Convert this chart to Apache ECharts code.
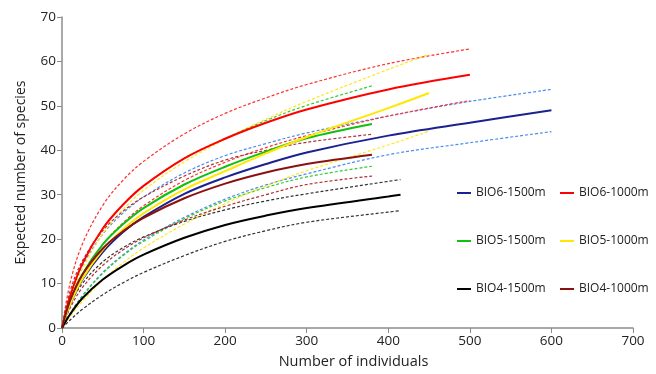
<!DOCTYPE html>
<html>
<head>
<meta charset="utf-8">
<script src="https://cdn.jsdelivr.net/npm/echarts@6/dist/echarts.min.js"></script>
<style>
  html, body { margin: 0; padding: 0; background: #fff; }
  #chart { width: 656px; height: 374px; }
</style>
</head>
<body>
<div id="chart"></div>
<script>
// sample sizes (individuals) for each rarefaction curve
const nBIO6_1500 = [0, 10, 25, 50, 75, 100, 150, 200, 250, 300, 400, 500, 600];
const nBIO6_1000 = [0, 10, 25, 50, 75, 100, 150, 200, 250, 300, 400, 500];
const nBIO5_1500 = [0, 10, 25, 50, 75, 100, 150, 200, 250, 300, 380];
const nBIO5_1000 = [0, 10, 25, 50, 75, 100, 150, 200, 250, 300, 400, 450];
const nBIO4_1500 = [0, 10, 25, 50, 75, 100, 150, 200, 250, 300, 400, 415];
const nBIO4_1000 = [0, 10, 25, 50, 75, 100, 150, 200, 250, 300, 380];

// expected species: mean, upper and lower 95% bounds
const meanBIO6_1500 = [0, 5.3, 10.9, 17.1, 21.6, 25, 30.2, 33.9, 36.9, 39.5, 43.3, 46.2, 49];
const upBIO6_1500 = [0, 7.2, 14, 21.1, 25.9, 29.5, 34.9, 38.8, 41.5, 43.9, 47.7, 51, 53.7];
const loBIO6_1500 = [0, 3.3, 7.3, 12.5, 16.5, 19.8, 24.9, 29, 32.2, 34.7, 39, 41.7, 44.2];

const meanBIO6_1000 = [0, 7.2, 14.5, 22.4, 27.8, 32, 38.2, 42.6, 46.2, 49.2, 53.7, 57];
const upBIO6_1000 = [0, 10.2, 18.9, 27.6, 33.3, 37.5, 43.7, 48.3, 51.8, 54.8, 59.5, 62.8];
const loBIO6_1000 = [0, 5.8, 12, 18.8, 23.7, 27.5, 33.2, 37.3, 40.6, 43.3, 47.7, 51.2];

const meanBIO5_1500 = [0, 6, 12.1, 18.8, 23.4, 27, 32.3, 36.3, 39.7, 42.7, 45.9];
const upBIO5_1500 = [0, 7.2, 14.5, 22.4, 27.8, 32, 38.2, 42.7, 46.7, 50.1, 54.5];
const loBIO5_1500 = [0, 3.2, 7.2, 12.3, 16.3, 19.5, 24.6, 28.6, 31.6, 34, 36.4];

const meanBIO5_1000 = [0, 5.4, 11.1, 17.6, 22.2, 25.8, 31.2, 35.3, 39.3, 43, 49.5, 52.9];
const upBIO5_1000 = [0, 6.5, 13.3, 21.2, 26.7, 31, 37.4, 42.5, 47, 51, 58.2, 61.6];
const loBIO5_1000 = [0, 2.6, 6, 10.8, 14.7, 18, 23.4, 28, 32, 35.4, 41.2, 44.3];

const meanBIO4_1500 = [0, 3.1, 6.7, 10.9, 14, 16.5, 20.3, 23.2, 25.3, 27, 29.6, 30];
const upBIO4_1500 = [0, 5.3, 10, 14.9, 18.1, 20.5, 24, 26.6, 28.6, 30.2, 33, 33.4];
const loBIO4_1500 = [0, 1.8, 4.2, 7.5, 10.2, 12.5, 16.3, 19.5, 21.9, 23.8, 26.1, 26.4];

const meanBIO4_1000 = [0, 6.2, 12, 17.9, 21.8, 24.8, 29.2, 32.5, 35, 36.9, 39];
const upBIO4_1000 = [0, 8.3, 15.1, 21.9, 26.3, 29.5, 34.2, 37.8, 40, 41.8, 43.6];
const loBIO4_1000 = [0, 4.5, 9.1, 14.1, 17.6, 20.3, 24.3, 27.4, 30, 32.3, 34.2];

const xTicks = [0, 100, 200, 300, 400, 500, 600, 700];
const yTicks = [0, 10, 20, 30, 40, 50, 60, 70];

const groups = [
  { name: 'BIO6-1500m', n: nBIO6_1500, mean: meanBIO6_1500, up: upBIO6_1500, lo: loBIO6_1500, color: '#1c2190', band: '#4a8cf0' },
  { name: 'BIO6-1000m', n: nBIO6_1000, mean: meanBIO6_1000, up: upBIO6_1000, lo: loBIO6_1000, color: '#ff0000', band: '#ff3030' },
  { name: 'BIO5-1500m', n: nBIO5_1500, mean: meanBIO5_1500, up: upBIO5_1500, lo: loBIO5_1500, color: '#10c010', band: '#30cc30' },
  { name: 'BIO5-1000m', n: nBIO5_1000, mean: meanBIO5_1000, up: upBIO5_1000, lo: loBIO5_1000, color: '#ffe800', band: '#ffe81a' },
  { name: 'BIO4-1500m', n: nBIO4_1500, mean: meanBIO4_1500, up: upBIO4_1500, lo: loBIO4_1500, color: '#000000', band: '#333333' },
  { name: 'BIO4-1000m', n: nBIO4_1000, mean: meanBIO4_1000, up: upBIO4_1000, lo: loBIO4_1000, color: '#8b1111', band: '#b03030' }
];

const pairs = (xs, ys) => xs.map((x, i) => [x, ys[i]]);

const series = [];
// dashed confidence bounds first, solid means on top
groups.forEach((g) => {
  ['up', 'lo'].forEach((k) => {
    series.push({
      name: g.name + ' ' + k,
      type: 'line',
      data: pairs(g.n, g[k]),
      smooth: 0.35,
      showSymbol: false,
      silent: true,
      lineStyle: { color: g.band, width: 1.2, type: [3, 2] },
      z: 2
    });
  });
});
groups.forEach((g) => {
  series.push({
    name: g.name,
    type: 'line',
    data: pairs(g.n, g.mean),
    smooth: 0.35,
    showSymbol: false,
    itemStyle: { color: g.color },
    lineStyle: { color: g.color, width: 2 },
    z: 3
  });
});

// one legend entry per component: 3 rows x 2 columns
const legendCols = [452, 555];
const legendTops = [182, 230, 278];
const legends = groups.map((g, i) => ({
  data: [g.name],
  left: legendCols[i % 2],
  top: legendTops[Math.floor(i / 2)],
  icon: 'rect',
  itemWidth: 14,
  itemHeight: 2,
  textStyle: { fontFamily: 'Open Sans', fontSize: 12, color: '#222' }
}));

const chart = echarts.init(document.getElementById('chart'));
chart.setOption({
  animation: false,
  textStyle: { fontFamily: 'Open Sans' },
  grid: { left: 62, right: 23, top: 17, bottom: 44 },
  legend: legends,
  xAxis: {
    type: 'value',
    min: xTicks[0],
    max: xTicks[xTicks.length - 1],
    interval: 100,
    name: 'Number of individuals',
    nameLocation: 'middle',
    nameGap: 26,
    nameTextStyle: { fontSize: 14.5, color: '#222', padding: [0, 0, 0, 12] },
    axisLine: { lineStyle: { color: '#8c8c8c', width: 1.5 } },
    axisTick: { show: true, length: 5, lineStyle: { color: '#8c8c8c' } },
    axisLabel: { fontSize: 13.5, color: '#222', margin: 6 },
    splitLine: { show: false }
  },
  yAxis: {
    type: 'value',
    min: yTicks[0],
    max: yTicks[yTicks.length - 1],
    interval: 10,
    name: 'Expected number of species',
    nameLocation: 'middle',
    nameGap: 34,
    nameTextStyle: { fontSize: 14, color: '#222' },
    axisLine: { show: true, lineStyle: { color: '#8c8c8c', width: 1.5 } },
    axisTick: { show: true, length: 5, lineStyle: { color: '#8c8c8c' } },
    axisLabel: { fontSize: 13.5, color: '#222', margin: 6 },
    splitLine: { show: false }
  },
  series: series
});
</script>
</body>
</html>
